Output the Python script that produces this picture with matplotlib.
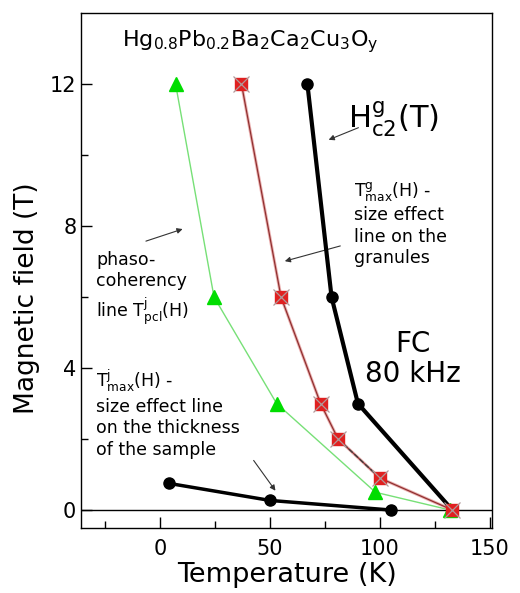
import matplotlib
matplotlib.use("Agg")
import matplotlib.pyplot as plt

plt.rcParams['font.family'] = ['DejaVu Sans']
plt.rcParams['mathtext.fontset'] = 'dejavusans'

# Upper critical field of granules H^g_c2(T)
hc2_T = [67, 78, 90, 133]
hc2_H = [12, 6, 3, 0]
# T^g_max(H) size effect line on granules
tg_T = [37, 55, 73, 81, 100, 133]
tg_H = [12, 6, 3, 2, 0.9, 0]
# phaso-coherency line T^j_pcl(H)
pcl_T = [7, 24.5, 53, 98, 132]
pcl_H = [12, 6, 3, 0.5, 0]
# T^j_max(H) size effect line on thickness
tj_T = [4, 50, 105]
tj_H = [0.75, 0.27, 0]

fig = plt.figure(figsize=(5.2, 5.93), dpi=100)
ax = fig.add_axes([0.156, 0.110, 0.790, 0.868])

ax.axhline(0, color='black', lw=1.0, zorder=1)

ax.plot(pcl_T, pcl_H, color='#77e077', lw=1.0, zorder=2)
ax.plot(pcl_T, pcl_H, ls='none', marker='^', ms=10, color='#00dd00', zorder=5)

ax.plot(tg_T, tg_H, color='#eab0b0', lw=2.2, zorder=2)
ax.plot(tg_T, tg_H, color='#903030', lw=0.9, zorder=3)
ax.plot(tg_T[3:5], tg_H[3:5], color='#404040', lw=1.0, ls='--', zorder=3)
ax.plot(tg_T, tg_H, ls='none', marker='s', ms=8, color='#e02020', zorder=5)
ax.plot(tg_T, tg_H, ls='none', marker='x', ms=11, mew=0.9, color='#b09a9a', zorder=6)

ax.plot(hc2_T, hc2_H, color='black', lw=3.0, marker='o', ms=8, zorder=4)
ax.plot(tj_T, tj_H, color='black', lw=2.5, marker='o', ms=8, zorder=4)

ax.set_xlim(-36, 151)
ax.set_ylim(-0.5, 14)
ax.set_xticks([0, 50, 100, 150])
ax.set_xticks([-25, 25, 75, 125], minor=True)
ax.set_yticks([0, 4, 8, 12])
ax.set_yticks([2, 6, 10], minor=True)
ax.tick_params(which='both', direction='in', top=False, right=False, labelsize=15, width=1)
ax.tick_params(which='major', length=8)
ax.tick_params(which='minor', length=5)
ax.tick_params(axis='x', pad=8)
ax.set_xlabel('Temperature (K)', fontsize=19.5, labelpad=2)
ax.set_ylabel('Magnetic field (T)', fontsize=19)
ax.yaxis.set_label_coords(-0.1, 0.447)
for s in ax.spines.values():
    s.set_linewidth(1.0)

ax.text(41, 13.2, r'Hg$_{0.8}$Pb$_{0.2}$Ba$_{2}$Ca$_{2}$Cu$_{3}$O$_{\rm y}$', fontsize=16,
        ha='center', va='center')
ax.text(85.5, 11.0, r'H$^{\rm g}_{\rm c2}$(T)', fontsize=22, ha='left', va='center')
ax.annotate('', xy=(75.5, 10.4), xytext=(91.4, 10.8),
            arrowprops=dict(arrowstyle='-|>', color='#333333', lw=0.8, mutation_scale=8))

ax.text(88, 9.3, r'T$^{\rm g}_{\rm max}$(H) -' + '\nsize effect\nline on the\ngranules',
        fontsize=12.5, ha='left', va='top', linespacing=1.25)
ax.annotate('', xy=(55.5, 6.99), xytext=(83.2, 7.46),
            arrowprops=dict(arrowstyle='-|>', color='#333333', lw=0.8, mutation_scale=8))

ax.text(-29, 7.3, 'phaso-\ncoherency\nline ' + r'T$^{\rm j}_{\rm pcl}$(H)',
        fontsize=12.5, ha='left', va='top', linespacing=1.25)
ax.annotate('', xy=(11.4, 7.94), xytext=(-7.7, 7.55),
            arrowprops=dict(arrowstyle='-|>', color='#333333', lw=0.8, mutation_scale=8))

ax.text(115, 4.25, 'FC\n80 kHz', fontsize=20, ha='center', va='center', linespacing=1.1)

ax.text(-29, 4.0, r'T$^{\rm j}_{\rm max}$(H) -' + '\nsize effect line\non the thickness\nof the sample',
        fontsize=12.5, ha='left', va='top', linespacing=1.25)
ax.annotate('', xy=(53.2, 0.48), xytext=(41.8, 1.46),
            arrowprops=dict(arrowstyle='-|>', color='#333333', lw=0.8, mutation_scale=8))

fig.savefig('out.png', dpi=100)
